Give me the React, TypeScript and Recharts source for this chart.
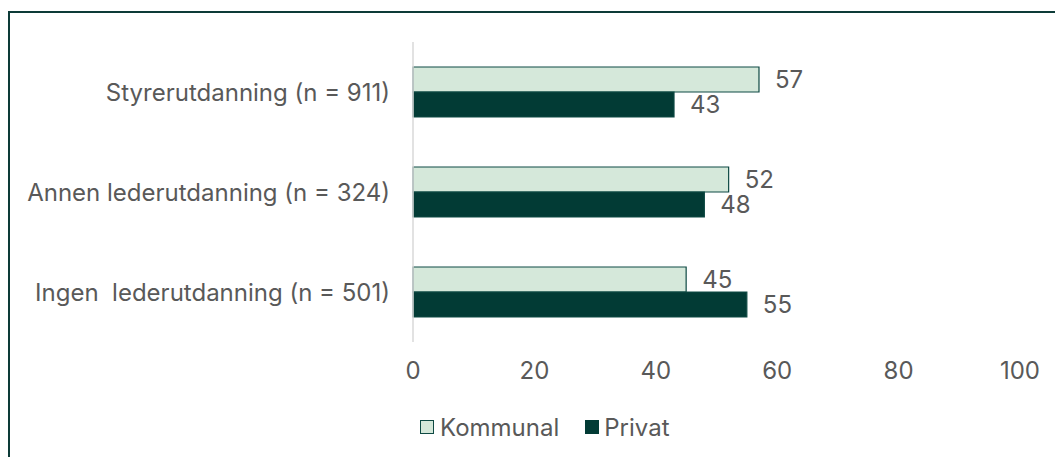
import React from "react";
import { BarChart, Bar, XAxis, YAxis, LabelList } from "recharts";

const categories = [
  "Styrerutdanning (n = 911)",
  "Annen lederutdanning (n = 324)",
  "Ingen  lederutdanning (n = 501)",
];
const kommunal = [57, 52, 45];
const privat = [43, 48, 55];
const xTicks = [0, 20, 40, 60, 80, 100];

const data = categories.map((c, i) => ({ name: c, Kommunal: kommunal[i], Privat: privat[i] }));

const FONT = "Inter, 'Noto Sans', sans-serif";
const FS = 24;
const LIGHT = "#d5e8da";
const DARK = "#023b35";
const STROKE = "#0f4a44";
const TEXT = "#595959";

const CategoryTick = (props: any) => {
  const { x, y, payload } = props;
  return (
    <text
      x={x}
      y={y}
      dy="0.355em"
      textAnchor="end"
      xmlSpace="preserve"
      style={{ whiteSpace: "pre" }}
      fontFamily={FONT}
      fontSize={FS}
      fill={TEXT}
    >
      {payload.value}
    </text>
  );
};

export default function App() {
  return (
    <div style={{ position: "fixed", left: 0, top: 0, width: 1055, height: 457, background: "#fff", overflow: "hidden" }}>
      <div style={{ position: "absolute", left: 8, top: 11, width: 1100, height: 500, border: "2px solid #0d3b38", boxSizing: "border-box" }} />
      <div style={{ position: "absolute", left: 0, top: 0 }}>
        <BarChart
          width={1055}
          height={457}
          data={data}
          layout="vertical"
          margin={{ top: 42, right: 35, bottom: 75, left: 0 }}
          barCategoryGap="25%"
          barGap={0}
        >
          <XAxis
            type="number"
            domain={[0, 100]}
            ticks={xTicks}
            axisLine={false}
            tickLine={false}
            tickMargin={14}
            height={40}
            tick={{ fontFamily: FONT, fontSize: FS, fill: TEXT }}
          />
          <YAxis
            type="category"
            dataKey="name"
            width={413}
            axisLine={{ stroke: "#d9d9d9", strokeWidth: 1.5 }}
            tickLine={false}
            tickMargin={17}
            tick={<CategoryTick />}
          />
          <Bar dataKey="Kommunal" fill={LIGHT} stroke={STROKE} strokeWidth={1.2} isAnimationActive={false}>
            <LabelList dataKey="Kommunal" position="right" offset={16} style={{ fontFamily: FONT, fontSize: FS, fill: TEXT }} />
          </Bar>
          <Bar dataKey="Privat" fill={DARK} stroke={STROKE} strokeWidth={1.2} isAnimationActive={false}>
            <LabelList dataKey="Privat" position="right" offset={16} style={{ fontFamily: FONT, fontSize: FS, fill: TEXT }} />
          </Bar>
        </BarChart>
      </div>
      <div style={{ position: "absolute", left: 420, top: 412, height: 30, display: "flex", alignItems: "center", fontFamily: FONT, fontSize: FS, color: TEXT }}>
        <span style={{ width: 14, height: 14, background: LIGHT, border: `1.5px solid ${STROKE}`, boxSizing: "border-box", display: "inline-block", marginRight: 6 }} />
        <span style={{ marginRight: 26 }}>Kommunal</span>
        <span style={{ width: 14, height: 14, background: DARK, display: "inline-block", marginRight: 5 }} />
        <span>Privat</span>
      </div>
    </div>
  );
}
